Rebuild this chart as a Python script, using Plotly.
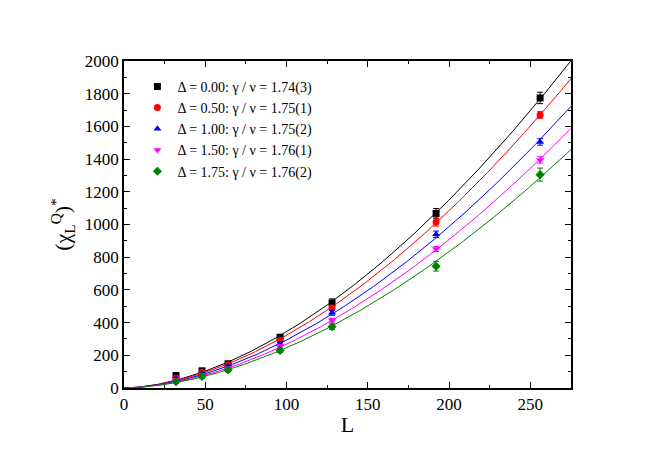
import numpy as np
import plotly.graph_objects as go

L = [32, 48, 64, 96, 128, 192, 256]
y0 = [75, 105, 148, 310, 520, 1068, 1774]
y1 = [60, 95, 140, 290, 490, 1015, 1670]
y2 = [55, 85, 130, 270, 460, 940, 1505]
y3 = [50, 80, 120, 255, 415, 850, 1395]
y4 = [38, 70, 110, 230, 375, 745, 1305]
err0 = [20, 15, 15, 18, 25, 30, 35]
err1 = [10, 10, 10, 12, 15, 25, 20]
err2 = [10, 10, 10, 12, 15, 20, 20]
err3 = [8, 8, 8, 10, 12, 15, 20]
err4 = [10, 10, 10, 12, 18, 30, 40]
exps = [1.74, 1.75, 1.75, 1.76, 1.76]
labels = ["Δ = 0.00: γ / ν = 1.74(3)", "Δ = 0.50: γ / ν = 1.75(1)",
          "Δ = 1.00: γ / ν = 1.75(2)", "Δ = 1.50: γ / ν = 1.76(1)",
          "Δ = 1.75: γ / ν = 1.76(2)"]
colors = ["black", "red", "blue", "magenta", "green"]
symbols = ["square", "circle", "triangle-up", "triangle-down", "diamond"]
series = [y0, y1, y2, y3, y4]
errs = [err0, err1, err2, err3, err4]

fig = go.Figure()
Lf = np.linspace(0, 275, 300)
La = np.array(L, float)
for ys, e, p, lab, c, s in zip(series, errs, exps, labels, colors, symbols):
    ya = np.array(ys, float)
    a = np.sum(ya * La**p) / np.sum(La**(2 * p))
    fig.add_trace(go.Scatter(x=Lf, y=a * Lf**p, mode="lines", line=dict(color=c, width=1),
                             showlegend=False, hoverinfo="skip"))
    fig.add_trace(go.Scatter(x=L, y=ys, mode="markers", name=lab,
                             marker=dict(color=c, symbol=s, size=7),
                             error_y=dict(type="data", array=e, color=c, thickness=1, width=3)))

ax = dict(showline=True, linecolor="black", linewidth=1.5, mirror="allticks", ticks="inside",
          ticklen=6, tickwidth=1, tickcolor="black", showgrid=False, zeroline=False, automargin=False,
          tickfont=dict(size=17, family="Liberation Serif", color="black"))
fig.update_xaxes(range=[0, 275], dtick=50, minor=dict(dtick=25, ticks="inside", ticklen=3, tickcolor="black"),
                 title=dict(text="L", font=dict(size=22, family="Liberation Serif", color="black"), standoff=3), **ax)
fig.update_yaxes(range=[0, 2000], dtick=200, minor=dict(dtick=100, ticks="inside", ticklen=3, tickcolor="black"),
                 title=dict(text="(χ<sub>L</sub><sup>Q</sup>)<sup>*</sup>", font=dict(size=22, family="Liberation Serif", color="black"), standoff=8), **ax)
fig.update_layout(width=654, height=457, margin=dict(l=116, r=91, t=53, b=77),
                  plot_bgcolor="white", paper_bgcolor="white",
                  legend=dict(x=0.03, y=0.97, xanchor="left", yanchor="top", bgcolor="rgba(0,0,0,0)",
                              font=dict(size=14, family="Liberation Serif", color="black"),
                              tracegroupgap=0))
fig.write_html("out.html")
